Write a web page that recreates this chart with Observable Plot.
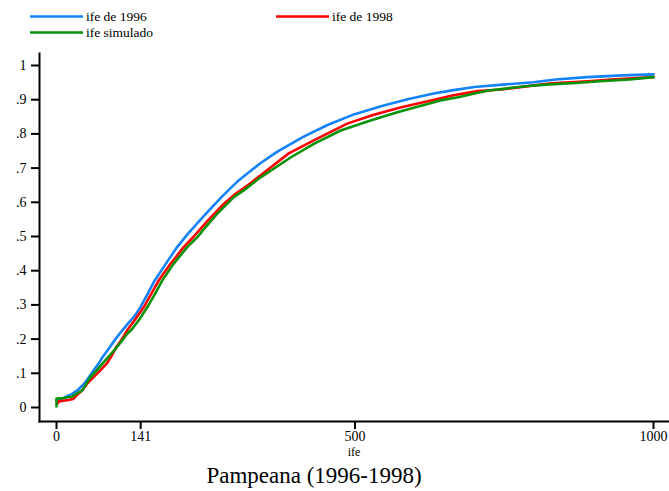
<!DOCTYPE html>
<html><head><meta charset="utf-8">
<script src="https://cdn.jsdelivr.net/npm/d3@7"></script>
<script src="https://cdn.jsdelivr.net/npm/@observablehq/plot@0.6"></script>
<style>
body{margin:0;background:#fff;}
#wrap{width:669px;height:491px;font-family:"Liberation Serif",serif;color:#000;}
#wrap svg{display:block;}
</style></head><body><div id="wrap"></div>
<script>
const seriesNames = ["ife de 1996", "ife de 1998", "ife simulado"];
const seriesColors = ["#1482fa", "#ff0000", "#0a920a"];
const xTicks = [0, 141, 500, 1000];
const yTicks = [0, 0.1, 0.2, 0.3, 0.4, 0.5, 0.6, 0.7, 0.8, 0.9, 1];
const xLabel = "ife";
const titleText = "Pampeana (1996-1998)";

const ife1996X = [0, 12, 26, 36, 46, 54, 62, 70, 77, 85, 93, 101, 110, 120, 131, 141, 152, 164, 183, 202, 221, 250, 278, 305, 342, 370, 414, 454, 498, 548, 590, 632, 665, 700, 747, 799, 836, 889, 948, 1000];
const ife1996Y = [0.02, 0.028, 0.040, 0.052, 0.069, 0.088, 0.108, 0.127, 0.147, 0.166, 0.186, 0.205, 0.225, 0.246, 0.268, 0.295, 0.330, 0.370, 0.420, 0.469, 0.510, 0.566, 0.618, 0.664, 0.715, 0.748, 0.792, 0.826, 0.857, 0.883, 0.902, 0.918, 0.928, 0.937, 0.944, 0.951, 0.959, 0.966, 0.971, 0.974];

const ife1998X = [2, 4, 20, 28, 35, 43, 51, 62, 73, 84, 92, 100, 109, 118, 132, 146, 158, 171, 191, 213, 230, 250, 264, 280, 300, 322, 350, 389, 431, 487, 530, 576, 638, 665, 705, 745, 800, 830, 890, 930, 1000];
const ife1998Y = [0.012, 0.018, 0.022, 0.025, 0.038, 0.05, 0.069, 0.089, 0.108, 0.128, 0.150, 0.176, 0.198, 0.225, 0.258, 0.293, 0.330, 0.371, 0.420, 0.469, 0.500, 0.540, 0.566, 0.595, 0.625, 0.652, 0.690, 0.743, 0.781, 0.830, 0.855, 0.877, 0.902, 0.913, 0.925, 0.930, 0.942, 0.948, 0.954, 0.959, 0.966];

const ifeSimX = [0, 0, 12, 26, 35, 43, 50, 57, 67, 77, 88, 101, 110, 118, 126, 139, 152, 165, 177, 196, 219, 236, 245, 269, 297, 313, 342, 392, 431, 476, 526, 571, 643, 673, 700, 724, 760, 790, 820, 870, 910, 960, 1000];
const ifeSimY = [0.003, 0.026, 0.028, 0.032, 0.042, 0.05, 0.07, 0.089, 0.108, 0.128, 0.150, 0.176, 0.196, 0.215, 0.228, 0.258, 0.293, 0.332, 0.371, 0.420, 0.469, 0.498, 0.518, 0.566, 0.615, 0.634, 0.673, 0.731, 0.771, 0.810, 0.839, 0.863, 0.898, 0.907, 0.918, 0.927, 0.934, 0.940, 0.944, 0.949, 0.954, 0.959, 0.966];

const seriesXs = [ife1996X, ife1998X, ifeSimX];
const seriesYs = [ife1996Y, ife1998Y, ifeSimY];
const tables = seriesXs.map((xs, i) => xs.map((x, j) => ({series: seriesNames[i], x, y: seriesYs[i][j]})));

const wrap = document.getElementById("wrap");
const FONT = '"Liberation Serif", serif';

// Legend (above the chart)
const W = 669;
const leg = d3.create("svg").attr("width", W).attr("height", 44);
const legPos = [[30, 16.5], [276, 16.5], [30, 32.5]];
seriesNames.forEach((name, i) => {
  const [lx, ly] = legPos[i];
  leg.append("line").attr("x1", lx).attr("x2", lx + 53).attr("y1", ly).attr("y2", ly)
    .attr("stroke", seriesColors[i]).attr("stroke-width", 2.5);
  leg.append("text").attr("x", lx + 56).attr("y", ly + 4.5)
    .style("font-family", FONT).attr("font-size", 13.5)
    .text(name);
});
wrap.appendChild(leg.node());

const fmtY = d => d === 0 ? "0" : d === 1 ? "1" : String(d).replace(/^0/, "");
const fmtX = d => String(d);

const chart = Plot.plot({
  width: W, height: 418,
  marginLeft: 39, marginRight: 1, marginTop: 9, marginBottom: 41,
  x: {domain: [0, 1000], range: [56, 653]},
  y: {domain: [0, 1], range: [363, 21]},
  style: {fontFamily: FONT, fontSize: "14px", color: "#000", background: "#fff"},
  marks: [
    Plot.frame({anchor: "left", strokeWidth: 2}),
    Plot.frame({anchor: "bottom", strokeWidth: 2}),
    Plot.axisY(yTicks, {tickSize: 8, tickPadding: 5, tickFormat: fmtY, strokeWidth: 2, fontSize: 14, label: null}),
    Plot.axisX(xTicks, {tickSize: 8, tickPadding: 2, tickFormat: fmtX, strokeWidth: 2, fontSize: 14, label: null}),
    Plot.text([xLabel], {frameAnchor: "bottom", dy: 34, fontSize: 12, text: d => d}),
    Plot.line(tables[0], {x: "x", y: "y", stroke: seriesColors[0], strokeWidth: 2.6}),
    Plot.line(tables[1], {x: "x", y: "y", stroke: seriesColors[1], strokeWidth: 2.6}),
    Plot.line(tables[2], {x: "x", y: "y", stroke: seriesColors[2], strokeWidth: 2.6})
  ]
});
wrap.appendChild(chart);

// Title (below the chart)
const ttl = d3.create("svg").attr("width", W).attr("height", 29);
ttl.append("text").attr("x", 314).attr("y", 21).attr("text-anchor", "middle")
  .style("font-family", FONT).attr("font-size", 23).text(titleText);
wrap.appendChild(ttl.node());
</script>
</body></html>
